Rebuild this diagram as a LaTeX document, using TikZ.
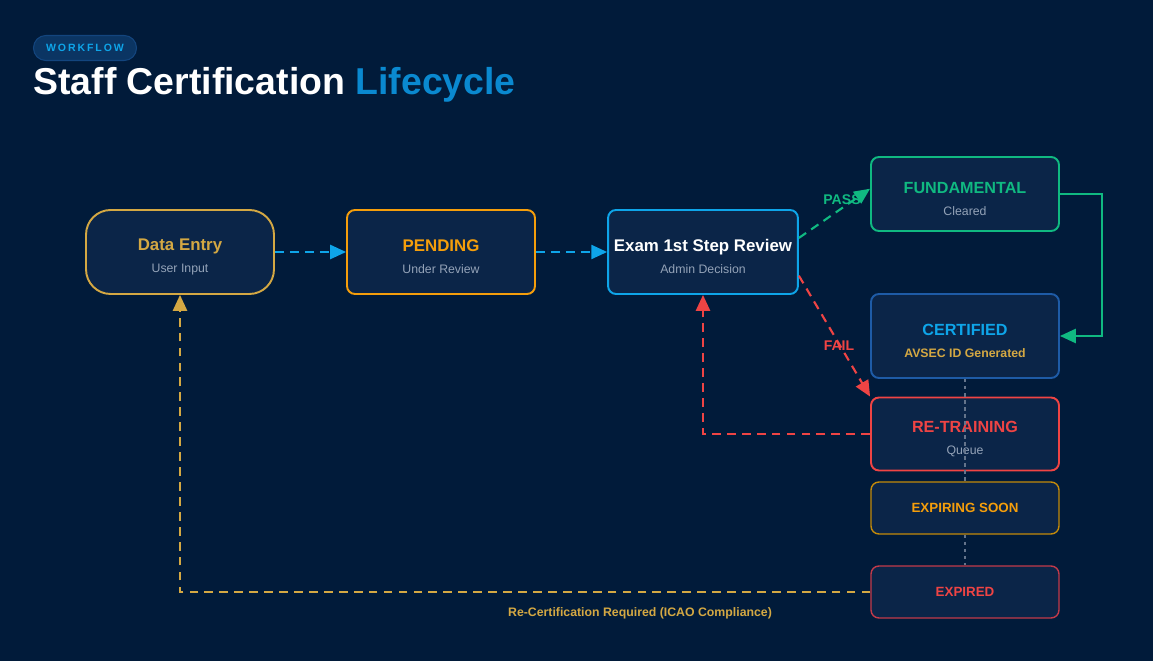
\documentclass[tikz,border=0pt]{standalone}
\usepackage{fontspec}
\setmainfont{Liberation Sans}
\newfontfamily\spacedfont[LetterSpace=18]{Liberation Sans}
\usepackage{xcolor}
\usetikzlibrary{arrows.meta}
\definecolor{pagebg}{HTML}{011B3A}
\definecolor{nodefill}{HTML}{0B2548}
\definecolor{goldc}{HTML}{D4A843}
\definecolor{orangec}{HTML}{F59E0B}
\definecolor{skyc}{HTML}{0EA5E9}
\definecolor{greenc}{HTML}{10B981}
\definecolor{certc}{HTML}{1E5BA6}
\definecolor{redc}{HTML}{EF4444}
\definecolor{amberdk}{HTML}{C38A0A}
\definecolor{reddk}{HTML}{C23A4A}
\definecolor{subgrey}{HTML}{94A3B8}
\definecolor{pillfill}{HTML}{0B3563}
\definecolor{pillline}{HTML}{13457E}
\definecolor{lifec}{HTML}{0A89D0}
\definecolor{linkgrey}{HTML}{64748B}
\newcommand{\subline}[1]{{\normalfont\fontsize{7}{9}\selectfont\color{subgrey}#1}}
\newcommand{\topstrut}{\rule{0pt}{12pt}}

\begin{document}
\begin{tikzpicture}[x=0.02cm, y=-0.02cm,
    box/.style={rectangle, rounded corners=4.5pt, draw, line width=1.1pt, fill=nodefill, minimum width=3.76cm, minimum height=1.68cm, align=center, font=\bfseries\fontsize{9.6}{12}\selectfont},
    flat/.style={box, minimum height=1.04cm, line width=0.8pt, font=\bfseries\fontsize{7.6}{9}\selectfont},
    arrow/.style={-{Triangle[length=9pt,width=8pt]}, line width=1.2pt, dash pattern=on 5pt off 3.5pt},
    tag/.style={font=\bfseries\fontsize{8}{9}\selectfont}
]
\fill[pagebg] (0,0) rectangle (1153,661);
\useasboundingbox (0,0) rectangle (1153,661);

% header
\node[draw=pillline, fill=pillfill, rounded corners=7pt, line width=0.6pt, minimum width=2.06cm, minimum height=0.5cm, text=skyc, font=\spacedfont\bfseries\fontsize{6}{7}\selectfont] (pill) at (85,48) {WORKFLOW};
\node[anchor=base west, inner sep=0pt, text=white, font=\bfseries\fontsize{21.3}{25}\selectfont] (title) at (33,95) {Staff Certification \textcolor{lifec}{Lifecycle}};

% states
\node[box, draw=goldc, text=goldc, rounded corners=14pt] (data) at (180,252) {\topstrut Data Entry\\[0.5pt]\subline{User Input}};
\node[box, draw=orangec, text=orangec] (pending) at (441,252) {\topstrut PENDING\\[0.5pt]\subline{Under Review}};
\node[box, draw=skyc, text=white] (exam) at (703,252) {\topstrut Exam 1st Step Review\\[0.5pt]\subline{Admin Decision}};
\node[box, draw=greenc, text=greenc, minimum height=1.48cm, font=\bfseries\fontsize{9.2}{12}\selectfont] (fund) at (965,194) {\topstrut FUNDAMENTAL\\[0.5pt]\subline{Cleared}};
\node[box, draw=certc, text=skyc, font=\bfseries\fontsize{9.2}{12}\selectfont] (cert) at (965,336) {\topstrut CERTIFIED\\[0.5pt]{\fontsize{7}{9}\selectfont\color{goldc}AVSEC ID Generated}};
\node[box, draw=redc, text=redc, minimum height=1.46cm, font=\bfseries\fontsize{9.2}{12}\selectfont] (retrain) at (965,434) {\topstrut RE-TRAINING\\[0.5pt]\subline{Queue}};

% lifecycle link
\draw[linkgrey, line width=0.7pt, dash pattern=on 2pt off 2pt] (cert.south) -- (965,482);

\node[flat, draw=amberdk, text=orangec] (expiring) at (965,508) {EXPIRING SOON};
\node[flat, draw=reddk, text=redc] (expired) at (965,592) {EXPIRED};
\draw[linkgrey, line width=0.7pt, dash pattern=on 2pt off 2pt] (expiring.south) -- (expired.north);

% flow
\draw[arrow, skyc] (data.east) -- (pending.west);
\draw[arrow, skyc] (pending.east) -- (exam.west);
\node[tag, text=greenc] (passlbl) at (842,200) {PASS};
\draw[arrow, greenc] ([yshift=8pt]exam.east) -- ([yshift=3pt]fund.west);
\draw[arrow, redc] ([yshift=-13.5pt]exam.east) -- (retrain.north west);
\node[tag, text=redc] (faillbl) at (839,346) {FAIL};
\draw[-{Triangle[length=9pt,width=8pt]}, greenc, line width=1.2pt] (fund.east) -- ++(42,0) |- (cert.east);
\draw[arrow, redc] (retrain.west) -| (exam.south);
\draw[arrow, goldc] (expired.west) -| (data.south);
\node[text=goldc, font=\bfseries\fontsize{7}{8}\selectfont] (recertlbl) at (640,613) {Re-Certification Required (ICAO Compliance)};

\end{tikzpicture}
\end{document}
